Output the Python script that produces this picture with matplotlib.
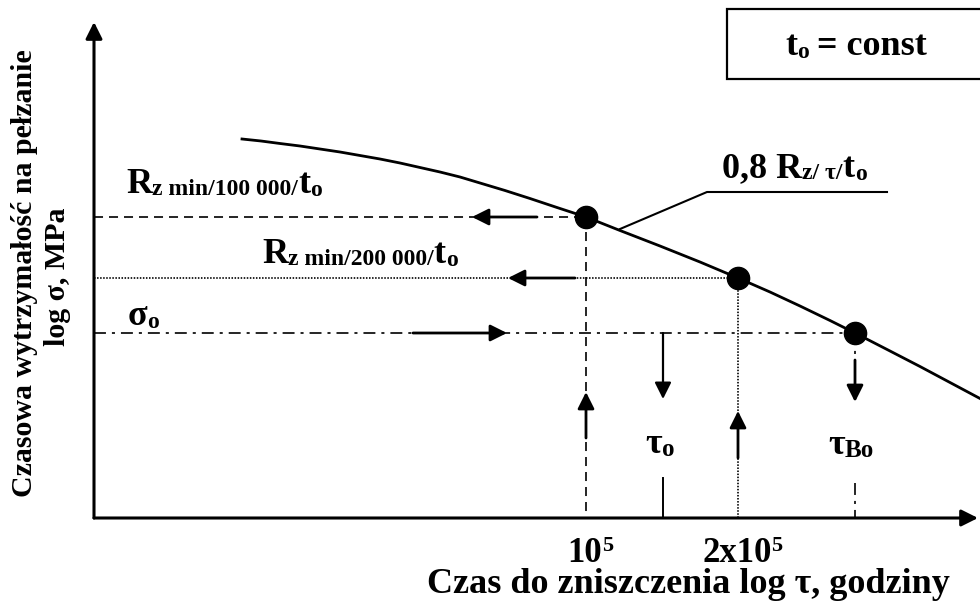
import matplotlib
matplotlib.use("Agg")
import matplotlib.pyplot as plt
from matplotlib.patches import Rectangle

plt.rcParams['font.family'] = ['Liberation Serif', 'DejaVu Serif']
plt.rcParams['font.weight'] = 'bold'
plt.rcParams['lines.scale_dashes'] = False

# ---- schematic data (chart units: origin at axis crossing) ----
curve_x = [14.8, 16.7, 18.6, 20.6, 22.6, 24.6, 26.6, 28.6, 30.6, 32.6, 34.6, 36.6, 38.6,
           41.1, 43.6, 46.3, 49.2, 52.6, 56.6, 60.6, 64.4, 67.6, 70.6, 73.6, 76.1,
           79.6, 82.6, 85.6, 88.6]
curve_y = [37.9, 37.7, 37.45, 37.2, 36.9, 36.6, 36.25, 35.9, 35.5, 35.05, 34.6, 34.1, 33.5,
           32.75, 31.95, 31.05, 30.1, 28.75, 27.2, 25.6, 24.0, 22.6, 21.2, 19.75, 18.5,
           16.7, 15.15, 13.55, 11.95]
pt_x = [49.2, 64.4, 76.1]          # 10^5, 2x10^5, tau_Bo
pt_y = [30.1, 24.0, 18.5]          # Rz/100000, Rz/200000, sigma_o
tau_o_x = 56.9
leader_x = [52.6, 61.3, 79.3]
leader_y = [28.9, 32.6, 32.6]
x_ticks_pos = [47.3, 60.8]
x_ticks_lab = [("10", "5"), ("2x10", "5")]

DASHED = (0, (6.5, 4.3))
DOTTED = (0, (1.1, 1.1))
DASHDOT = (0, (8.6, 4.3, 2.2, 4.3))

fig = plt.figure(figsize=(9.8, 6.07), dpi=100)
ax = fig.add_axes([0, 0, 1, 1])
ax.set_xlim(-9.4, 88.6)
ax.set_ylim(-8.9, 51.8)
ax.set_axis_off()

def arrow(x0, y0, x1, y1, lw=2.0):
    ax.annotate("", xy=(x1, y1), xytext=(x0, y0),
                arrowprops=dict(arrowstyle="-|>,head_length=1.0,head_width=0.5",
                                lw=lw, color="black", shrinkA=0, shrinkB=0,
                                mutation_scale=10))

def rich(x, y, parts):
    first = ax.text(x, y, parts[0][0], fontsize=parts[0][1], va='baseline', ha='left',
                    fontweight='bold')
    prev = first
    for s, fs, dy, gap in parts[1:]:
        prev = ax.annotate(s, xy=(1, y), xycoords=(prev, 'data'), xytext=(gap, -dy),
                           textcoords='offset points', fontsize=fs, va='baseline',
                           ha='left', fontweight='bold')
    return first

M, S = 26, 17

# axes
arrow(0, 0, 0, 49.6, lw=2.2)
arrow(0, 0, 88.4, 0, lw=2.2)

# guide lines
ax.plot([0, pt_x[0]], [pt_y[0], pt_y[0]], color='k', lw=1.2, linestyle=DASHED)
ax.plot([pt_x[0], pt_x[0]], [pt_y[0], 0], color='k', lw=1.2, linestyle=DASHED)
ax.plot([0, pt_x[1]], [pt_y[1], pt_y[1]], color='k', lw=1.2, linestyle=DOTTED)
ax.plot([pt_x[1], pt_x[1]], [pt_y[1], 0], color='k', lw=1.2, linestyle=DOTTED)
ax.plot([0, pt_x[2]], [pt_y[2], pt_y[2]], color='k', lw=1.2, linestyle=DASHDOT)
ax.plot([pt_x[2], pt_x[2]], [pt_y[2], 11.6], color='k', lw=1.2, linestyle=DASHDOT)
ax.plot([pt_x[2], pt_x[2]], [3.5, 0], color='k', lw=1.2, linestyle=DASHDOT)
ax.plot([tau_o_x, tau_o_x], [4.0, 0], color='k', lw=1.4)

# curve and points
ax.plot(curve_x, curve_y, color='k', lw=2.0, solid_joinstyle='round')
ax.plot(pt_x, pt_y, 'o', color='k', markersize=16)
ax.plot(leader_x, leader_y, color='k', lw=1.5)

# arrows
arrow(44.3, pt_y[0], 37.8, pt_y[0])
arrow(48.1, pt_y[1], 41.4, pt_y[1])
arrow(31.9, pt_y[2], 41.3, pt_y[2])
arrow(tau_o_x, pt_y[2], tau_o_x, 11.9, lw=1.6)
arrow(pt_x[0], 8.0, pt_x[0], 12.6)
arrow(pt_x[1], 6.0, pt_x[1], 10.7)
arrow(pt_x[2], 15.8, pt_x[2], 11.6)

# labels
rich(3.2, 32.5, [("R", M), ("z min/100 000/", S, 1.5, 0), ("t", M, 0, 0), ("o", S, 2, 0)])
rich(16.8, 25.5, [("R", M), ("z min/200 000/", S, 1.5, 0), ("t", M, 0, 0), ("o", S, 2, 0)])
rich(3.4, 19.3, [("σ", M), ("o", S, 2, 0)])
rich(62.8, 34.1, [("0,8 R", M), ("z/ τ/", S, 1.5, 0), ("t", M, 0, 0), ("o", S, 2, 0)])
rich(55.1, 6.5, [("τ", M), ("o", 18, 2, 0)])
rich(73.4, 6.4, [("τ", M), ("Bo", 18, 2, 0)])
for xp, (base, sup) in zip(x_ticks_pos, x_ticks_lab):
    rich(xp, -4.4, [(base, 25), (sup, 16, -8, 0)])

ax.text(59.4, -7.5, "Czas do zniszczenia log τ, godziny", fontsize=26, ha='center',
        va='baseline', fontweight='bold')
ax.text(-6.2, 24.5, "Czasowa wytrzymałość na pełzanie", fontsize=21.5, rotation=90,
        rotation_mode='anchor', ha='center', va='baseline', fontweight='bold')
ax.text(-2.9, 24.1, "log σ, MPa", fontsize=21.5, rotation=90,
        rotation_mode='anchor', ha='center', va='baseline', fontweight='bold')

# box
ax.add_patch(Rectangle((63.3, 43.9), 26.5, 7.0, facecolor='white', edgecolor='black', lw=1.6,
                       clip_on=False))
rich(69.1, 46.3, [("t", M), ("o", S, 2, 0), ("= const", M, 0, 6)])

fig.savefig("out.png", dpi=100)
